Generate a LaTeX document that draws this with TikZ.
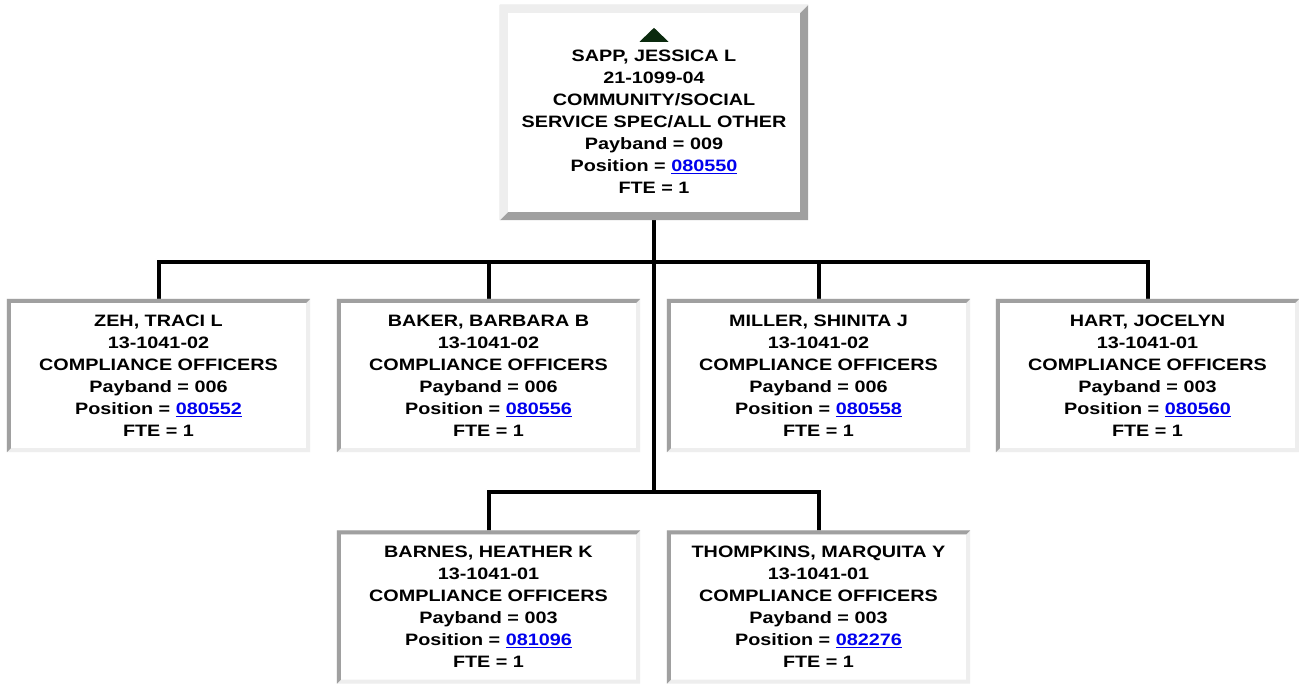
\documentclass[tikz,border=0pt]{standalone}
\usepackage{fontspec}
\setmainfont{Liberation Sans}[FakeStretch=1.2]
\usetikzlibrary{calc}
\definecolor{bdark}{HTML}{A0A0A0}
\definecolor{blight}{HTML}{EEEEEE}
\definecolor{linkblue}{HTML}{0000EE}
\definecolor{tricol}{HTML}{0B2A0E}
\newcommand\poslink[1]{\textcolor{linkblue}{\underline{#1}}}
% name, border width, top-left colour, bottom-right colour
\newcommand\bevelframe[4]{%
  \fill[#4, even odd rule] ([shift={(-#2,#2)}]#1.north west) rectangle ([shift={(#2,-#2)}]#1.south east)
        (#1.north west) rectangle (#1.south east);
  \fill[#3] ([shift={(-#2,-#2)}]#1.south west) -- ([shift={(-#2,#2)}]#1.north west)
        -- ([shift={(#2,#2)}]#1.north east) -- (#1.north east) -- (#1.north west) -- (#1.south west) -- cycle;
}
\begin{document}
\begin{tikzpicture}[x=1pt,y=-1pt,
  card/.style={fill=white, inner sep=0pt, align=center,
    font=\fontsize{16.5}{22}\selectfont\bfseries, text=black},
  child/.style={card, minimum width=295pt, minimum height=145pt},
  boss/.style={card, minimum width=292pt, minimum height=199pt},
  conn/.style={line width=4pt, black}]
\fill[white] (0,0) rectangle (1299,688);
\useasboundingbox (0,0) rectangle (1299,688);

\node[boss] (sapp) at (654,112.5) {\strut\\SAPP, JESSICA L\\21-1099-04\\COMMUNITY/SOCIAL\\SERVICE SPEC/ALL OTHER\\Payband = 009\\Position = \poslink{080550}\\FTE = 1\strut};

\node[child] (zeh) at (158.5,375.5) {ZEH, TRACI L\\13-1041-02\\COMPLIANCE OFFICERS\\Payband = 006\\Position = \poslink{080552}\\FTE = 1};
\node[child] (baker) at (488.5,375.5) {BAKER, BARBARA B\\13-1041-02\\COMPLIANCE OFFICERS\\Payband = 006\\Position = \poslink{080556}\\FTE = 1};
\node[child] (miller) at (818.5,375.5) {MILLER, SHINITA J\\13-1041-02\\COMPLIANCE OFFICERS\\Payband = 006\\Position = \poslink{080558}\\FTE = 1};
\node[child] (hart) at (1147.5,375.5) {HART, JOCELYN\\13-1041-01\\COMPLIANCE OFFICERS\\Payband = 003\\Position = \poslink{080560}\\FTE = 1};

\node[child] (barnes) at (488.5,607) {BARNES, HEATHER K\\13-1041-01\\COMPLIANCE OFFICERS\\Payband = 003\\Position = \poslink{081096}\\FTE = 1};
\node[child] (thompkins) at (818.5,607) {THOMPKINS, MARQUITA Y\\13-1041-01\\COMPLIANCE OFFICERS\\Payband = 003\\Position = \poslink{082276}\\FTE = 1};

\coordinate (bus1) at (654,262);
\coordinate (bus2) at (654,492);
\draw[conn] (sapp.south) -- (bus2);
\draw[conn] (bus1) -| (zeh.north);
\draw[conn] (bus1) -| (baker.north);
\draw[conn] (bus1) -| (miller.north);
\draw[conn] (bus1) -| (hart.north);
\draw[conn] (bus2) -| (barnes.north);
\draw[conn] (bus2) -| (thompkins.north);

\bevelframe{sapp}{8pt}{blight}{bdark}
\bevelframe{zeh}{4pt}{bdark}{blight}
\bevelframe{baker}{4pt}{bdark}{blight}
\bevelframe{miller}{4pt}{bdark}{blight}
\bevelframe{hart}{4pt}{bdark}{blight}
\bevelframe{barnes}{4pt}{bdark}{blight}
\bevelframe{thompkins}{4pt}{bdark}{blight}

\fill[tricol] ([shift={(-14.5pt,-29pt)}]sapp.north) -- ([shift={(14.5pt,-29pt)}]sapp.north)
  -- ([shift={(0pt,-15pt)}]sapp.north) -- cycle;
\end{tikzpicture}
\end{document}
